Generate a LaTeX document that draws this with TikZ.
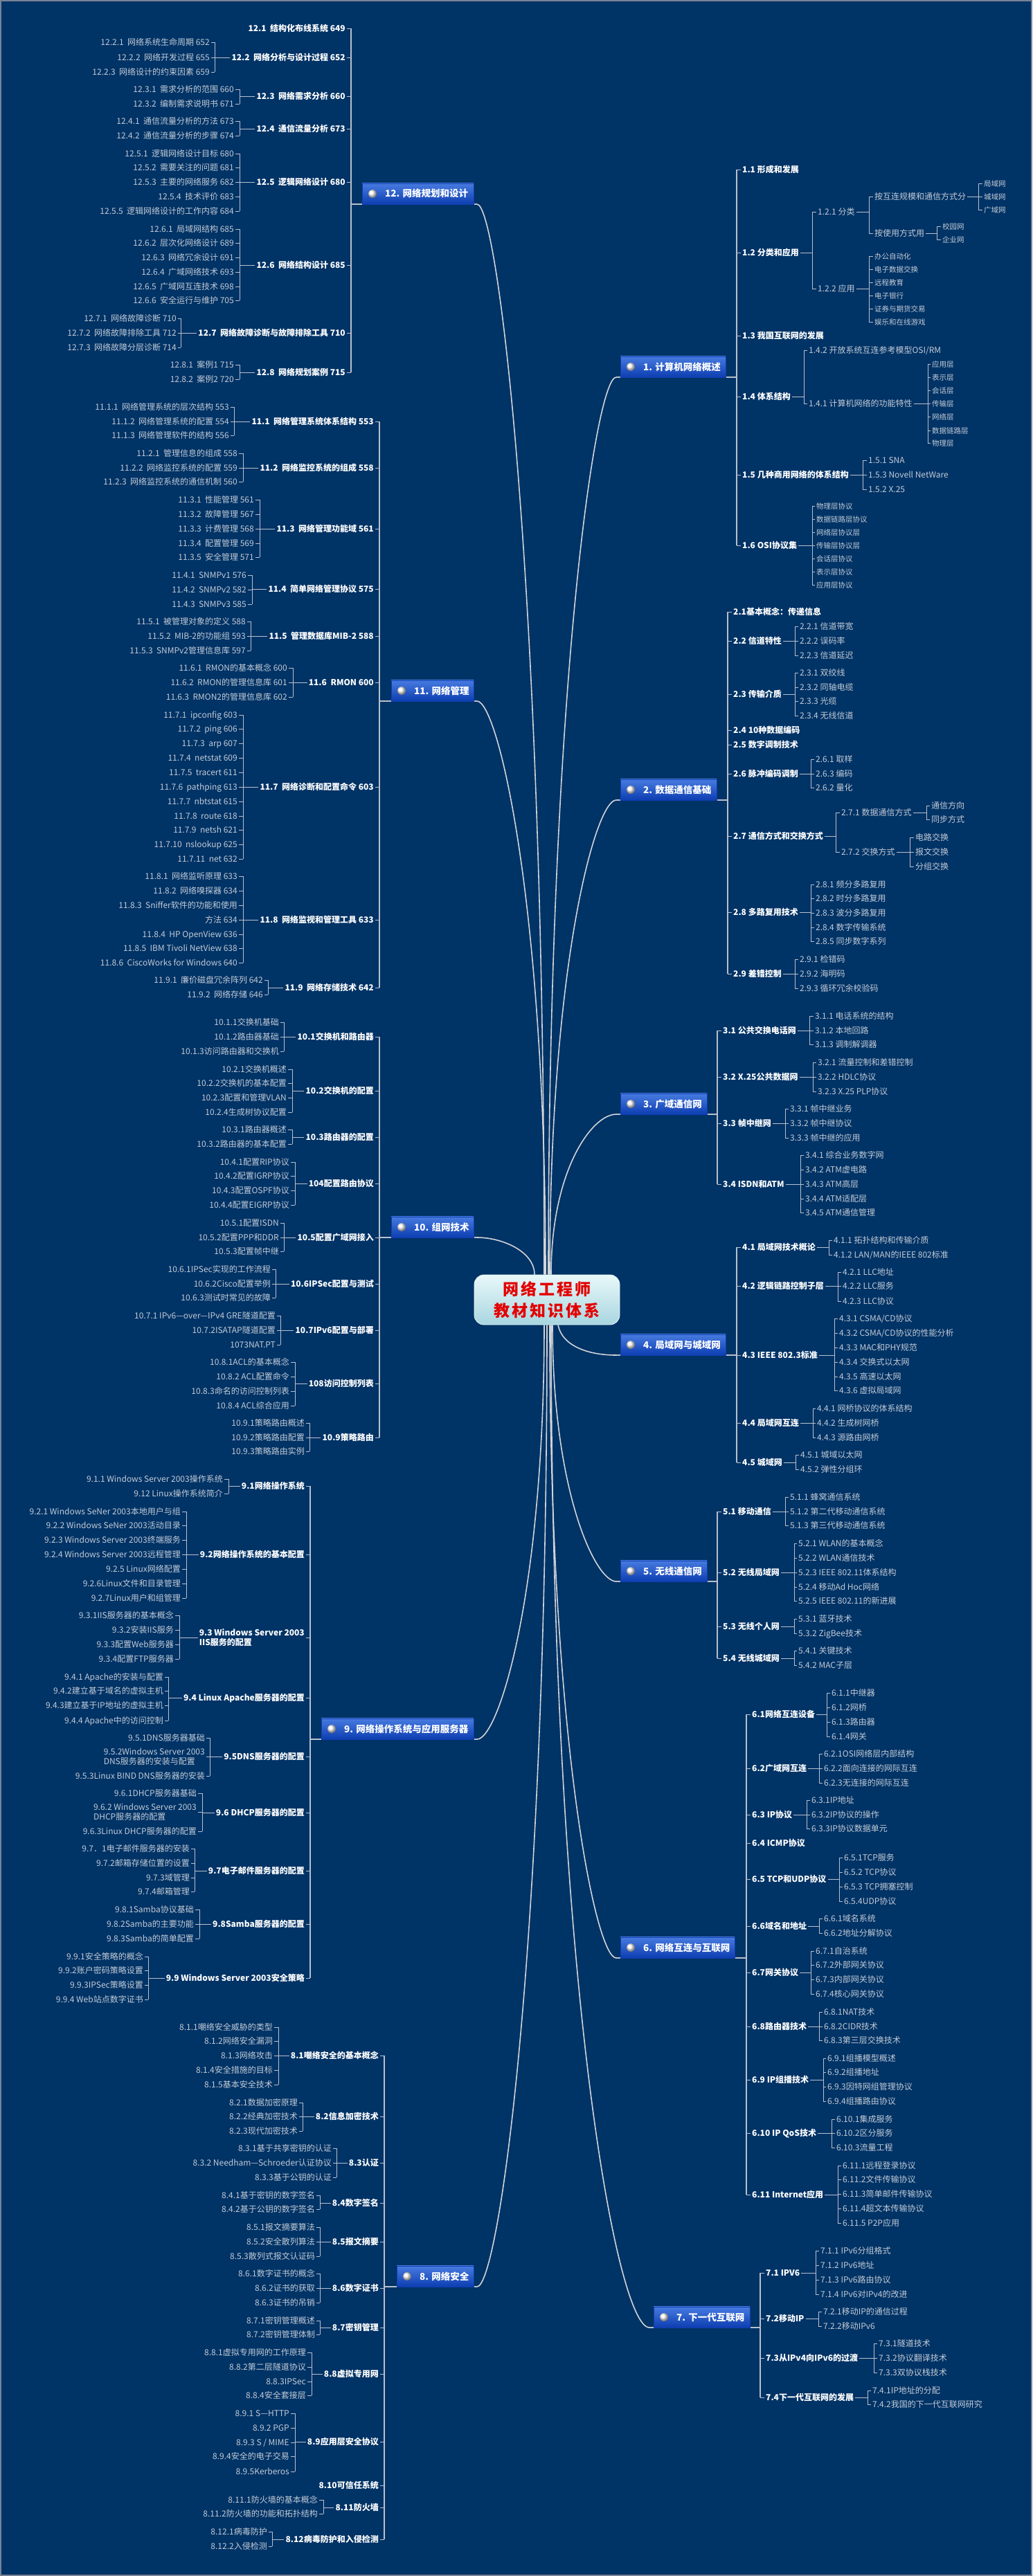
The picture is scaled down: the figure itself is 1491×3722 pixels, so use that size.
\documentclass[tikz,border=0pt]{standalone}
\usepackage{fontspec}
\setmainfont{Noto Sans CJK SC}
\definecolor{bg}{RGB}{0,51,102}
\definecolor{subg}{RGB}{196,203,214}
\definecolor{lineg}{RGB}{185,192,204}
\definecolor{curveg}{RGB}{210,212,216}
\definecolor{boxtop}{RGB}{72,124,224}
\definecolor{boxbot}{RGB}{14,62,178}
\definecolor{ctop}{RGB}{232,248,250}
\definecolor{cbot}{RGB}{168,214,224}
\definecolor{titred}{RGB}{228,0,0}
\definecolor{framec}{RGB}{120,132,150}
\tikzset{
 lvl2/.style={font=\fontsize{12}{14}\selectfont\bfseries,text=white,inner sep=0pt},
 lvl3/.style={font=\fontsize{12}{14}\selectfont,text=subg,inner sep=0pt},
 lvl4/.style={font=\fontsize{10.5}{12}\selectfont,text=subg,inner sep=0pt},
 tick/.style={draw=lineg,line width=0.9pt},
 brk/.style={draw=lineg,line width=0.9pt},
 trunk/.style={draw=lineg,line width=1.2pt},
 curve/.style={draw=curveg,line width=1.6pt},
 bbox/.style={rectangle,inner sep=0pt,minimum height=30,top color=boxtop,bottom color=boxbot,draw=boxbot,line width=0.4pt},
 bullet/.style={circle,inner sep=0pt,minimum size=12,ball color=white},
 btext/.style={font=\fontsize{13.5}{15}\selectfont\bfseries,text=white,inner sep=0pt},
 cnode/.style={rectangle,rounded corners=14,top color=ctop,bottom color=cbot,draw=ctop,line width=0.8pt,align=center,font=\fontsize{23}{31}\selectfont\bfseries,text=titred,inner sep=0pt,minimum width=210,minimum height=72},
}
\newcount\nid
% left side
\newcommand\Lpar[3]{\global\advance\nid by 1 \edef\curP{p\the\nid}%
 \node[lvl2,anchor=base east] (\curP) at (#3-8,#1+4.4) {#2};%
 \coordinate (t\curP) at (#3,#1);%
 \draw[tick] (\curP.east |- t\curP) ++(2,0) -- (t\curP);}
\newcommand\LparM[3]{\global\advance\nid by 1 \edef\curP{p\the\nid}%
 \node[lvl2,font=\fontsize{12}{13.5}\selectfont\bfseries,align=left,anchor=east] (\curP) at (#3-8,#1) {#2};%
 \coordinate (t\curP) at (#3,#1);%
 \draw[tick] (\curP.east |- t\curP) ++(2,0) -- (t\curP);}
\newcommand\Lbr[4]{\def\curCR{#1}\def\curBX{#2}%
 \draw[brk] (#2,#3) -- (#2,#4);%
 \coordinate (k\curP) at (#2,0);%
 \draw[tick] (\curP.west |- t\curP) ++(-2,0) -- (k\curP |- t\curP);}
\newcommand\Lch[3][lvl3]{\global\advance\nid by 1 \edef\curC{c\the\nid}%
 \node[#1,anchor=base east] (\curC) at (\curCR,#2+4.4) {#3};%
 \coordinate (t\curC) at (\curBX,#2);%
 \draw[tick] (\curC.east |- t\curC) ++(2,0) -- (t\curC);}
\newcommand\LchM[2]{\global\advance\nid by 1 \edef\curC{c\the\nid}%
 \node[lvl3,font=\fontsize{12}{13.5}\selectfont,align=left,anchor=east] (\curC) at (\curCR,#1) {#2};%
 \coordinate (t\curC) at (\curBX,#1);%
 \draw[tick] (\curC.east |- t\curC) ++(2,0) -- (t\curC);}
% right side
\newcommand\Rpar[3]{\global\advance\nid by 1 \edef\curP{p\the\nid}%
 \node[lvl2,anchor=base west] (\curP) at (#3+8,#1+4.4) {#2};%
 \coordinate (t\curP) at (#3,#1);%
 \draw[tick] (\curP.west |- t\curP) ++(-2,0) -- (t\curP);}
\newcommand\Rbr[4]{\def\curCL{#1}\def\curBX{#2}%
 \draw[brk] (#2,#3) -- (#2,#4);%
 \coordinate (k\curP) at (#2,0);%
 \draw[tick] (\curP.east |- t\curP) ++(2,0) -- (k\curP |- t\curP);}
\newcommand\Rset[2]{\def\curCL{#1}\def\curBX{#2}}
\newcommand\Rch[3][lvl3]{\global\advance\nid by 1 \edef\curC{c\the\nid}%
 \node[#1,anchor=base west] (\curC) at (\curCL,#2+4.4) {#3};%
 \coordinate (t\curC) at (\curBX,#2);%
 \draw[tick] (\curC.west |- t\curC) ++(-2,0) -- (t\curC);}
\newcommand\BoxN[5]{%
 \node[bbox,minimum width={#3-#2},anchor=south west] (#1) at (#2,#4) {};%
 \node[bullet] (#1c) at (#2+15,#4-15) {};%
 \node[btext,anchor=base west] (#1t) at (#2+33,#4-10) {#5};}
\begin{document}
\begin{tikzpicture}[x=1pt,y=-1pt]
\useasboundingbox (0,0) rectangle (1491,3722);
\fill[bg] (0,0) rectangle (1491,3722);
\draw[draw=framec,line width=2pt] (1,1) rectangle (1490,3721);

% ---------- box anchor coordinates ----------
\coordinate (b12s) at (689,295);
\coordinate (b11s) at (689,1013);
\coordinate (b10s) at (689,1788);
\coordinate (b9s) at (689,2513);
\coordinate (b8s) at (689,3304);
\coordinate (b1s) at (890,545);
\coordinate (b2s) at (890,1156);
\coordinate (b3s) at (890,1610);
\coordinate (b4s) at (890,1958);
\coordinate (b5s) at (890,2285);
\coordinate (b6s) at (890,2829);
\coordinate (b7s) at (938,3363);
\node[cnode,draw=none,fill=none,top color=bg,bottom color=bg] (C0) at (790,1878) {};
\coordinate (C) at (790,1878);

% ---------- curves ----------
\path (C0.north) coordinate (Cn) (C0.south) coordinate (Cs);
\draw[curve] (b12s) .. controls (719,295) and (786,836) .. ([xshift=-4]Cn);
\draw[curve] (b11s) .. controls (719,1013) and (788,1303) .. ([xshift=-2]Cn);
\draw[curve] (b10s) .. controls (725,1788) and (772,1808) .. ([xshift=-18]Cn);
\draw[curve] (b1s) .. controls (860,545) and (792,999) .. ([xshift=2]Cn);
\draw[curve] (b2s) .. controls (860,1156) and (794,1396) .. ([xshift=4]Cn);
\draw[curve] (b3s) .. controls (855,1610) and (796,1691) .. ([xshift=6]Cn);
\draw[curve] ([xshift=16]Cs) .. controls (812,1945) and (850,1958) .. (b4s);
\draw[curve] ([xshift=8]Cs) .. controls (798,2155) and (860,2285) .. (b5s);
\draw[curve] ([xshift=4]Cs) .. controls (794,2509) and (860,2829) .. (b6s);
\draw[curve] ([xshift=6]Cs) .. controls (796,2856) and (890,3363) .. (b7s);
\draw[curve] ([xshift=-4]Cs) .. controls (786,2303) and (720,2513) .. (b9s);
\draw[curve] (Cs) .. controls (790,2818) and (720,3304) .. (b8s);

% ---------- lines under boxes ----------
\draw[trunk] (507,295) -- (b12s);
\draw[trunk] (548,1013) -- (b11s);
\draw[trunk] (548,1788) -- (b10s);
\draw[trunk] (448,2513) -- (b9s);
\draw[trunk] (555,3304) -- (b8s);
\draw[trunk] (b1s) -- (1064,545);
\draw[trunk] (b2s) -- (1051,1156);
\draw[trunk] (b3s) -- (1036,1610);
\draw[trunk] (b4s) -- (1064,1958);
\draw[trunk] (b5s) -- (1036,2285);
\draw[trunk] (b6s) -- (1078,2829);
\draw[trunk] (b7s) -- (1098,3363);

% ---------- trunks ----------
\draw[trunk] (507,41) -- (507,538);
\draw[trunk] (548,609) -- (548,1427);
\draw[trunk] (548,1498) -- (548,2077);
\draw[trunk] (448,2147) -- (448,2858);
\draw[trunk] (555,2970) -- (555,3669);
\draw[trunk] (1064,245) -- (1064,788);
\draw[trunk] (1051,884) -- (1051,1407);
\draw[trunk] (1036,1489) -- (1036,1711);
\draw[trunk] (1064,1802) -- (1064,2113);
\draw[trunk] (1036,2184) -- (1036,2396);
\draw[trunk] (1078,2477) -- (1078,3171);
\draw[trunk] (1098,3284) -- (1098,3464);

% ---------- boxes ----------
\BoxN{b12}{523}{684}{295}{12. 网络规划和设计}
\BoxN{b11}{565}{684}{1013}{11. 网络管理}
\BoxN{b10}{565}{684}{1788}{10. 组网技术}
\BoxN{b9}{464}{684}{2513}{9. 网络操作系统与应用服务器}
\BoxN{b8}{573}{684}{3304}{8. 网络安全}
\BoxN{b1}{896}{1048}{545}{1. 计算机网络概述}
\BoxN{b2}{896}{1035}{1156}{2. 数据通信基础}
\BoxN{b3}{896}{1021}{1610}{3. 广域通信网}
\BoxN{b4}{896}{1048}{1958}{4. 局域网与城域网}
\BoxN{b5}{896}{1021}{2285}{5. 无线通信网}
\BoxN{b6}{896}{1061}{2829}{6. 网络互连与互联网}
\BoxN{b7}{944}{1083}{3363}{7. 下一代互联网}

% ---------- center ----------
\node[cnode] (Cmain) at (C) {网\hspace{3pt}络\hspace{3pt}工\hspace{3pt}程\hspace{3pt}师\\教\hspace{3pt}材\hspace{3pt}知\hspace{3pt}识\hspace{3pt}体\hspace{3pt}系};

% ================= 12 =================
\Lpar{41}{12.1\ \ 结构化布线系统 649}{507}
\Lpar{83}{12.2\ \ 网络分析与设计过程 652}{507}
\Lbr{303}{310}{61}{104}
\Lch{61}{12.2.1\ \ 网络系统生命周期 652}
\Lch{83}{12.2.2\ \ 网络开发过程 655}
\Lch{104}{12.2.3\ \ 网络设计的约束因素 659}
\Lpar{139}{12.3\ \ 网络需求分析 660}{507}
\Lbr{338}{346}{129}{150}
\Lch{129}{12.3.1\ \ 需求分析的范围 660}
\Lch{150}{12.3.2\ \ 编制需求说明书 671}
\Lpar{186}{12.4\ \ 通信流量分析 673}{507}
\Lbr{338}{346}{175}{196}
\Lch{175}{12.4.1\ \ 通信流量分析的方法 673}
\Lch{196}{12.4.2\ \ 通信流量分析的步骤 674}
\Lpar{263}{12.5\ \ 逻辑网络设计 680}{507}
\Lbr{338}{346}{222}{305}
\Lch{222}{12.5.1\ \ 逻辑网络设计目标 680}
\Lch{242}{12.5.2\ \ 需要关注的问题 681}
\Lch{263}{12.5.3\ \ 主要的网络服务 682}
\Lch{284}{12.5.4\ \ 技术评价 683}
\Lch{305}{12.5.5\ \ 逻辑网络设计的工作内容 684}
\Lpar{383}{12.6\ \ 网络结构设计 685}{507}
\Lbr{338}{346}{331}{434}
\Lch{331}{12.6.1\ \ 局域网结构 685}
\Lch{351}{12.6.2\ \ 层次化网络设计 689}
\Lch{372}{12.6.3\ \ 网络冗余设计 691}
\Lch{393}{12.6.4\ \ 广域网络技术 693}
\Lch{414}{12.6.5\ \ 广域网互连技术 698}
\Lch{434}{12.6.6\ \ 安全运行与维护 705}
\Lpar{481}{12.7\ \ 网络故障诊断与故障排除工具 710}{507}
\Lbr{255}{261}{460}{502}
\Lch{460}{12.7.1\ \ 网络故障诊断 710}
\Lch{481}{12.7.2\ \ 网络故障排除工具 712}
\Lch{502}{12.7.3\ \ 网络故障分层诊断 714}
\Lpar{538}{12.8\ \ 网络规划案例 715}{507}
\Lbr{338}{346}{527}{548}
\Lch{527}{12.8.1\ \ 案例1 715}
\Lch{548}{12.8.2\ \ 案例2 720}

% ================= 11 =================
\Lpar{609}{11.1\ \ 网络管理系统体系结构 553}{548}
\Lbr{331}{338}{588}{629}
\Lch{588}{11.1.1\ \ 网络管理系统的层次结构 553}
\Lch{609}{11.1.2\ \ 网络管理系统的配置 554}
\Lch{629}{11.1.3\ \ 网络管理软件的结构 556}
\Lpar{676}{11.2\ \ 网络监控系统的组成 558}{548}
\Lbr{343}{351}{655}{696}
\Lch{655}{11.2.1\ \ 管理信息的组成 558}
\Lch{676}{11.2.2\ \ 网络监控系统的配置 559}
\Lch{696}{11.2.3\ \ 网络监控系统的通信机制 560}
\Lpar{764}{11.3\ \ 网络管理功能域 561}{548}
\Lbr{367}{375}{722}{805}
\Lch{722}{11.3.1\ \ 性能管理 561}
\Lch{743}{11.3.2\ \ 故障管理 567}
\Lch{764}{11.3.3\ \ 计费管理 568}
\Lch{785}{11.3.4\ \ 配置管理 569}
\Lch{805}{11.3.5\ \ 安全管理 571}
\Lpar{851}{11.4\ \ 简单网络管理协议 575}{548}
\Lbr{356}{364}{831}{873}
\Lch{831}{11.4.1\ \ SNMPv1 576}
\Lch{852}{11.4.2\ \ SNMPv2 582}
\Lch{873}{11.4.3\ \ SNMPv3 585}
\Lpar{919}{11.5\ \ 管理数据库MIB-2 588}{548}
\Lbr{355}{362}{898}{940}
\Lch{898}{11.5.1\ \ 被管理对象的定义 588}
\Lch{919}{11.5.2\ \ MIB-2的功能组 593}
\Lch{940}{11.5.3\ \ SNMPv2管理信息库 597}
\Lpar{986}{11.6\ \ RMON 600}{548}
\Lbr{415}{423}{965}{1007}
\Lch{965}{11.6.1\ \ RMON的基本概念 600}
\Lch{986}{11.6.2\ \ RMON的管理信息库 601}
\Lch{1007}{11.6.3\ \ RMON2的管理信息库 602}
\Lpar{1137}{11.7\ \ 网络诊断和配置命令 603}{548}
\Lbr{343}{351}{1033}{1241}
\Lch{1033}{11.7.1\ \ ipconfig 603}
\Lch{1053}{11.7.2\ \ ping 606}
\Lch{1074}{11.7.3\ \ arp 607}
\Lch{1095}{11.7.4\ \ netstat 609}
\Lch{1116}{11.7.5\ \ tracert 611}
\Lch{1137}{11.7.6\ \ pathping 613}
\Lch{1158}{11.7.7\ \ nbtstat 615}
\Lch{1179}{11.7.8\ \ route 618}
\Lch{1199}{11.7.9\ \ netsh 621}
\Lch{1220}{11.7.10\ \ nslookup 625}
\Lch{1241}{11.7.11\ \ net 632}
\Lpar{1329}{11.8\ \ 网络监视和管理工具 633}{548}
\Lbr{343}{351}{1266}{1391}
\Lch{1266}{11.8.1\ \ 网络监听原理 633}
\Lch{1287}{11.8.2\ \ 网络嗅探器 634}
\Lch{1308}{11.8.3\ \ Sniffer软件的功能和使用}
\Lch{1329}{方法 634}
\Lch{1350}{11.8.4\ \ HP OpenView 636}
\Lch{1370}{11.8.5\ \ IBM Tivoli NetView 638}
\Lch{1391}{11.8.6\ \ CiscoWorks for Windows 640}
\Lpar{1427}{11.9\ \ 网络存储技术 642}{548}
\Lbr{380}{387}{1416}{1437}
\Lch{1416}{11.9.1\ \ 廉价磁盘冗余阵列 642}
\Lch{1437}{11.9.2\ \ 网络存储 646}

% ================= 10 =================
\Lpar{1498}{10.1交换机和路由器}{548}
\Lbr{403}{410}{1477}{1519}
\Lch{1477}{10.1.1交换机基础}
\Lch{1498}{10.1.2路由器基础}
\Lch{1519}{10.1.3访问路由器和交换机}
\Lpar{1576}{10.2交换机的配置}{548}
\Lbr{414}{422}{1545}{1607}
\Lch{1545}{10.2.1交换机概述}
\Lch{1565}{10.2.2交换机的基本配置}
\Lch{1586}{10.2.3配置和管理VLAN}
\Lch{1607}{10.2.4生成树协议配置}
\Lpar{1643}{10.3路由器的配置}{548}
\Lbr{414}{422}{1632}{1653}
\Lch{1632}{10.3.1路由器概述}
\Lch{1653}{10.3.2路由器的基本配置}
\Lpar{1710}{104配置路由协议}{548}
\Lbr{418}{426}{1679}{1741}
\Lch{1679}{10.4.1配置RIP协议}
\Lch{1699}{10.4.2配置IGRP协议}
\Lch{1720}{10.4.3配置OSPF协议}
\Lch{1741}{10.4.4配置EIGRP协议}
\Lpar{1788}{10.5配置广域网接入}{548}
\Lbr{403}{410}{1767}{1808}
\Lch{1767}{10.5.1配置ISDN}
\Lch{1788}{10.5.2配置PPP和DDR}
\Lch{1808}{10.5.3配置帧中继}
\Lpar{1855}{10.6IPSec配置与测试}{548}
\Lbr{391}{398}{1834}{1875}
\Lch{1834}{10.6.1IPSec实现的工作流程}
\Lch{1855}{10.6.2Cisco配置举例}
\Lch{1875}{10.6.3测试时常见的故障}
\Lpar{1922}{10.7IPv6配置与部署}{548}
\Lbr{398}{405}{1901}{1943}
\Lch{1901}{10.7.1 IPv6—over—IPv4 GRE隧道配置}
\Lch{1922}{10.7.2ISATAP隧道配置}
\Lch{1943}{1073NAT.PT}
\Lpar{1999}{108访问控制列表}{548}
\Lbr{418}{426}{1968}{2031}
\Lch{1968}{10.8.1ACL的基本概念}
\Lch{1989}{10.8.2 ACL配置命令}
\Lch{2010}{10.8.3命名的访问控制列表}
\Lch{2031}{10.8.4 ACL综合应用}
\Lpar{2077}{10.9策略路由}{548}
\Lbr{440}{447}{2056}{2097}
\Lch{2056}{10.9.1策略路由概述}
\Lch{2077}{10.9.2策略路由配置}
\Lch{2097}{10.9.3策略路由实例}

% ================= 9 =================
\Lpar{2147}{9.1网络操作系统}{448}
\Lbr{322}{330}{2137}{2158}
\Lch{2137}{9.1.1 Windows Server 2003操作系统}
\Lch{2158}{9.12 Linux操作系统简介}
\Lpar{2246}{9.2网络操作系统的基本配置}{448}
\Lbr{261}{269}{2184}{2309}
\Lch{2184}{9.2.1 Windows SeNer 2003本地用户与组}
\Lch{2204}{9.2.2 Windows SeNer 2003活动目录}
\Lch{2225}{9.2.3 Windows Server 2003终端服务}
\Lch{2246}{9.2.4 Windows Server 2003远程管理}
\Lch{2267}{9.2.5 Linux网络配置}
\Lch{2288}{9.2.6Linux文件和目录管理}
\Lch{2309}{9.2.7Linux用户和组管理}
\LparM{2366}{9.3 Windows Server 2003\\IIS服务的配置}{448}
\Lbr{251}{259}{2334}{2397}
\Lch{2334}{9.3.1IIS服务器的基本概念}
\Lch{2355}{9.3.2安装IIS服务}
\Lch{2376}{9.3.3配置Web服务器}
\Lch{2397}{9.3.4配置FTP服务器}
\Lpar{2453}{9.4 Linux Apache服务器的配置}{448}
\Lbr{236}{243}{2423}{2486}
\Lch{2423}{9.4.1 Apache的安装与配置}
\Lch{2443}{9.4.2建立基于域名的虚拟主机}
\Lch{2464}{9.4.3建立基于IP地址的虚拟主机}
\Lch{2486}{9.4.4 Apache中的访问控制}
\Lpar{2538}{9.5DNS服务器的配置}{448}
\Lbr{296}{303}{2511}{2566}
\Lch{2511}{9.5.1DNS服务器基础}
\LchM{2538}{9.5.2Windows Server 2003\\DNS服务器的安装与配置}
\Lch{2566}{9.5.3Linux BIND DNS服务器的安装}
\Lpar{2619}{9.6 DHCP服务器的配置}{448}
\Lbr{284}{292}{2591}{2646}
\Lch{2591}{9.6.1DHCP服务器基础}
\LchM{2618}{9.6.2 Windows Server 2003\\DHCP服务器的配置}
\Lch{2646}{9.6.3Linux DHCP服务器的配置}
\Lpar{2703}{9.7电子邮件服务器的配置}{448}
\Lbr{274}{281}{2671}{2733}
\Lch{2671}{9.7．1电子邮件服务器的安装}
\Lch{2692}{9.7.2邮箱存储位置的设置}
\Lch{2713}{9.7.3域管理}
\Lch{2733}{9.7.4邮箱管理}
\Lpar{2780}{9.8Samba服务器的配置}{448}
\Lbr{280}{288}{2759}{2801}
\Lch{2759}{9.8.1Samba协议基础}
\Lch{2780}{9.8.2Samba的主要功能}
\Lch{2801}{9.8.3Samba的简单配置}
\Lpar{2858}{9.9 Windows Server 2003安全策略}{448}
\Lbr{207}{214}{2827}{2889}
\Lch{2827}{9.9.1安全策略的概念}
\Lch{2847}{9.9.2账户密码策略设置}
\Lch{2868}{9.9.3IPSec策略设置}
\Lch{2889}{9.9.4 Web站点数字证书}

% ================= 8 =================
\Lpar{2970}{8.1嘲络安全的基本概念}{555}
\Lbr{394}{402}{2929}{3012}
\Lch{2929}{8.1.1嘲络安全威胁的类型}
\Lch{2949}{8.1.2网络安全漏洞}
\Lch{2970}{8.1.3网络攻击}
\Lch{2991}{8.1.4安全措施的目标}
\Lch{3012}{8.1.5基本安全技术}
\Lpar{3058}{8.2信息加密技术}{555}
\Lbr{430}{437}{3038}{3079}
\Lch{3038}{8.2.1数据加密原理}
\Lch{3058}{8.2.2经典加密技术}
\Lch{3079}{8.2.3现代加密技术}
\Lpar{3125}{8.3认证}{555}
\Lbr{479}{486}{3104}{3146}
\Lch{3104}{8.3.1基于共享密钥的认证}
\Lch{3125}{8.3.2 Needham—Schroeder认证协议}
\Lch{3146}{8.3.3基于公钥的认证}
\Lpar{3183}{8.4数字签名}{555}
\Lbr{455}{462}{3172}{3192}
\Lch{3172}{8.4.1基于密钥的数字签名}
\Lch{3192}{8.4.2基于公钥的数字签名}
\Lpar{3239}{8.5报文摘要}{555}
\Lbr{455}{462}{3218}{3260}
\Lch{3218}{8.5.1报文摘要算法}
\Lch{3239}{8.5.2安全散列算法}
\Lch{3260}{8.5.3散列式报文认证码}
\Lpar{3306}{8.6数字证书}{555}
\Lbr{455}{462}{3285}{3327}
\Lch{3285}{8.6.1数字证书的概念}
\Lch{3306}{8.6.2证书的获取}
\Lch{3327}{8.6.3证书的吊销}
\Lpar{3363}{8.7密钥管理}{555}
\Lbr{455}{462}{3353}{3373}
\Lch{3353}{8.7.1密钥管理概述}
\Lch{3373}{8.7.2密钥管理体制}
\Lpar{3430}{8.8虚拟专用网}{555}
\Lbr{442}{450}{3399}{3461}
\Lch{3399}{8.8.1虚拟专用网的工作原理}
\Lch{3420}{8.8.2第二层隧道协议}
\Lch{3441}{8.8.3IPSec}
\Lch{3461}{8.8.4安全套接层}
\Lpar{3528}{8.9应用层安全协议}{555}
\Lbr{418}{426}{3487}{3571}
\Lch{3487}{8.9.1 S—HTTP}
\Lch{3508}{8.9.2 PGP}
\Lch{3529}{8.9.3 S / MIME}
\Lch{3549}{8.9.4安全的电子交易}
\Lch{3571}{8.9.5Kerberos}
\Lpar{3591}{8.10可信任系统}{555}
\Lpar{3623}{8.11防火墙}{555}
\Lbr{459}{467}{3612}{3632}
\Lch{3612}{8.11.1防火墙的基本概念}
\Lch{3632}{8.11.2防火墙的功能和拓扑结构}
\Lpar{3669}{8.12病毒防护和入侵检测}{555}
\Lbr{386}{393}{3658}{3679}
\Lch{3658}{8.12.1病毒防护}
\Lch{3679}{8.12.2入侵检测}

% ================= 1 =================
\Rpar{245}{1.1 形成和发展}{1064}
\Rpar{365}{1.2 分类和应用}{1064}
\Rbr{1181}{1173}{306}{417}
\Rch{306}{1.2.1 分类}
\let\curP\curC
\Rbr{1263}{1255}{284}{337}
\Rch{284}{按互连规模和通信方式分}
\let\curP\curC
\Rbr{1421}{1413}{265}{303}
\Rch[lvl4]{265}{局域网}
\Rch[lvl4]{284}{城域网}
\Rch[lvl4]{303}{广域网}
\Rset{1263}{1255}
\Rch{337}{按使用方式用}
\let\curP\curC
\Rbr{1361}{1353}{327}{346}
\Rch[lvl4]{327}{校园网}
\Rch[lvl4]{346}{企业网}
\Rset{1181}{1173}
\Rch{417}{1.2.2 应用}
\let\curP\curC
\Rbr{1263}{1255}{370}{465}
\Rch[lvl4]{370}{办公自动化}
\Rch[lvl4]{389}{电子数据交换}
\Rch[lvl4]{408}{远程教育}
\Rch[lvl4]{427}{电子银行}
\Rch[lvl4]{446}{证券与期货交易}
\Rch[lvl4]{465}{娱乐和在线游戏}
\Rpar{485}{1.3 我国互联网的发展}{1064}
\Rpar{573}{1.4 体系结构}{1064}
\Rbr{1168}{1161}{506}{583}
\Rch{506}{1.4.2 开放系统互连参考模型OSI/RM}
\Rch{583}{1.4.1 计算机网络的功能特性}
\let\curP\curC
\Rbr{1346}{1340}{526}{640}
\Rch[lvl4]{526}{应用层}
\Rch[lvl4]{545}{表示层}
\Rch[lvl4]{564}{会话层}
\Rch[lvl4]{583}{传输层}
\Rch[lvl4]{602}{网络层}
\Rch[lvl4]{622}{数据链路层}
\Rch[lvl4]{640}{物理层}
\Rpar{686}{1.5 几种商用网络的体系结构}{1064}
\Rbr{1254}{1246}{665}{707}
\Rch{665}{1.5.1 SNA}
\Rch{686}{1.5.3 Novell NetWare}
\Rch{707}{1.5.2 X.25}
\Rpar{788}{1.6 OSI协议集}{1064}
\Rbr{1179}{1173}{731}{845}
\Rch[lvl4]{731}{物理层协议}
\Rch[lvl4]{750}{数据链路层协议}
\Rch[lvl4]{769}{网络层协议层}
\Rch[lvl4]{788}{传输层协议层}
\Rch[lvl4]{807}{会话层协议}
\Rch[lvl4]{826}{表示层协议}
\Rch[lvl4]{845}{应用层协议}

% ================= 2 =================
\Rpar{884}{2.1基本概念：传递信息}{1051}
\Rpar{926}{2.2 信道特性}{1051}
\Rbr{1155}{1148}{905}{947}
\Rch{905}{2.2.1 信道带宽}
\Rch{926}{2.2.2 误码率}
\Rch{947}{2.2.3 信道延迟}
\Rpar{1003}{2.3 传输介质}{1051}
\Rbr{1155}{1148}{972}{1034}
\Rch{972}{2.3.1 双绞线}
\Rch{993}{2.3.2 同轴电缆}
\Rch{1013}{2.3.3 光缆}
\Rch{1034}{2.3.4 无线信道}
\Rpar{1055}{2.4 10种数据编码}{1051}
\Rpar{1076}{2.5 数字调制技术}{1051}
\Rpar{1118}{2.6 脉冲编码调制}{1051}
\Rbr{1178}{1171}{1097}{1138}
\Rch{1097}{2.6.1 取样}
\Rch{1118}{2.6.3 编码}
\Rch{1138}{2.6.2 量化}
\Rpar{1208}{2.7 通信方式和交换方式}{1051}
\Rbr{1215}{1207}{1174}{1231}
\Rch{1174}{2.7.1 数据通信方式}
\let\curP\curC
\Rbr{1345}{1338}{1164}{1184}
\Rch{1164}{通信方向}
\Rch{1184}{同步方式}
\Rset{1215}{1207}
\Rch{1231}{2.7.2 交换方式}
\let\curP\curC
\Rbr{1322}{1314}{1210}{1252}
\Rch{1210}{电路交换}
\Rch{1231}{报文交换}
\Rch{1252}{分组交换}
\Rpar{1318}{2.8 多路复用技术}{1051}
\Rbr{1178}{1171}{1278}{1360}
\Rch{1278}{2.8.1 频分多路复用}
\Rch{1298}{2.8.2 时分多路复用}
\Rch{1319}{2.8.3 波分多路复用}
\Rch{1340}{2.8.4 数字传输系统}
\Rch{1360}{2.8.5 同步数字系列}
\Rpar{1407}{2.9 差错控制}{1051}
\Rbr{1155}{1148}{1386}{1428}
\Rch{1386}{2.9.1 检错码}
\Rch{1407}{2.9.2 海明码}
\Rch{1428}{2.9.3 循环冗余校验码}

% ================= 3 =================
\Rpar{1489}{3.1 公共交换电话网}{1036}
\Rbr{1177}{1169}{1468}{1509}
\Rch{1468}{3.1.1 电话系统的结构}
\Rch{1489}{3.1.2 本地回路}
\Rch{1509}{3.1.3 调制解调器}
\Rpar{1556}{3.2 X.25公共数据网}{1036}
\Rbr{1181}{1174}{1535}{1577}
\Rch{1535}{3.2.1 流量控制和差错控制}
\Rch{1556}{3.2.2 HDLC协议}
\Rch{1577}{3.2.3 X.25 PLP协议}
\Rpar{1623}{3.3 帧中继网}{1036}
\Rbr{1141}{1134}{1602}{1644}
\Rch{1602}{3.3.1 帧中继业务}
\Rch{1623}{3.3.2 帧中继协议}
\Rch{1644}{3.3.3 帧中继的应用}
\Rpar{1711}{3.4 ISDN和ATM}{1036}
\Rbr{1163}{1156}{1669}{1752}
\Rch{1669}{3.4.1 综合业务数字网}
\Rch{1690}{3.4.2 ATM虚电路}
\Rch{1711}{3.4.3 ATM高层}
\Rch{1732}{3.4.4 ATM适配层}
\Rch{1752}{3.4.5 ATM通信管理}

% ================= 4 =================
\Rpar{1802}{4.1 局域网技术概论}{1064}
\Rbr{1204}{1197}{1792}{1813}
\Rch{1792}{4.1.1 拓扑结构和传输介质}
\Rch{1813}{4.1.2 LAN/MAN的IEEE 802标准}
\Rpar{1858}{4.2 逻辑链路控制子层}{1064}
\Rbr{1217}{1210}{1838}{1880}
\Rch{1838}{4.2.1 LLC地址}
\Rch{1858}{4.2.2 LLC服务}
\Rch{1880}{4.2.3 LLC协议}
\Rpar{1958}{4.3 IEEE 802.3标准}{1064}
\Rbr{1212}{1205}{1905}{2009}
\Rch{1905}{4.3.1 CSMA/CD协议}
\Rch{1926}{4.3.2 CSMA/CD协议的性能分析}
\Rch{1947}{4.3.3 MAC和PHY规范}
\Rch{1968}{4.3.4 交换式以太网}
\Rch{1989}{4.3.5 高速以太网}
\Rch{2009}{4.3.6 虚拟局域网}
\Rpar{2056}{4.4 局域网互连}{1064}
\Rbr{1180}{1174}{2035}{2077}
\Rch{2035}{4.4.1 网桥协议的体系结构}
\Rch{2056}{4.4.2 生成树网桥}
\Rch{2077}{4.4.3 源路由网桥}
\Rpar{2113}{4.5 城域网}{1064}
\Rbr{1156}{1149}{2102}{2123}
\Rch{2102}{4.5.1 城域以太网}
\Rch{2123}{4.5.2 弹性分组环}

% ================= 5 =================
\Rpar{2184}{5.1 移动通信}{1036}
\Rbr{1141}{1134}{2163}{2204}
\Rch{2163}{5.1.1 蜂窝通信系统}
\Rch{2184}{5.1.2 第二代移动通信系统}
\Rch{2204}{5.1.3 第三代移动通信系统}
\Rpar{2272}{5.2 无线局域网}{1036}
\Rbr{1153}{1147}{2230}{2313}
\Rch{2230}{5.2.1 WLAN的基本概念}
\Rch{2251}{5.2.2 WLAN通信技术}
\Rch{2272}{5.2.3 IEEE 802.11体系结构}
\Rch{2293}{5.2.4 移动Ad Hoc网络}
\Rch{2313}{5.2.5 IEEE 802.11的新进展}
\Rpar{2350}{5.3 无线个人网}{1036}
\Rbr{1153}{1147}{2339}{2360}
\Rch{2339}{5.3.1 蓝牙技术}
\Rch{2360}{5.3.2 ZigBee技术}
\Rpar{2396}{5.4 无线城域网}{1036}
\Rbr{1153}{1147}{2385}{2406}
\Rch{2385}{5.4.1 关键技术}
\Rch{2406}{5.4.2 MAC子层}

% ================= 6 =================
\Rpar{2477}{6.1网络互连设备}{1078}
\Rbr{1201}{1194}{2446}{2509}
\Rch{2446}{6.1.1中继器}
\Rch{2467}{6.1.2网桥}
\Rch{2488}{6.1.3路由器}
\Rch{2509}{6.1.4网关}
\Rpar{2555}{6.2广域网互连}{1078}
\Rbr{1190}{1183}{2534}{2576}
\Rch{2534}{6.2.1OSI网络层内部结构}
\Rch{2555}{6.2.2面向连接的网际互连}
\Rch{2576}{6.2.3无连接的网际互连}
\Rpar{2622}{6.3 IP协议}{1078}
\Rbr{1172}{1165}{2601}{2642}
\Rch{2601}{6.3.1IP地址}
\Rch{2622}{6.3.2IP协议的操作}
\Rch{2642}{6.3.3IP协议数据单元}
\Rpar{2663}{6.4 ICMP协议}{1078}
\Rpar{2715}{6.5 TCP和UDP协议}{1078}
\Rbr{1219}{1212}{2684}{2747}
\Rch{2684}{6.5.1TCP服务}
\Rch{2705}{6.5.2 TCP协议}
\Rch{2726}{6.5.3 TCP拥塞控制}
\Rch{2747}{6.5.4UDP协议}
\Rpar{2783}{6.6域名和地址}{1078}
\Rbr{1190}{1183}{2772}{2793}
\Rch{2772}{6.6.1域名系统}
\Rch{2793}{6.6.2地址分解协议}
\Rpar{2850}{6.7网关协议}{1078}
\Rbr{1178}{1171}{2819}{2881}
\Rch{2819}{6.7.1自治系统}
\Rch{2839}{6.7.2外部网关协议}
\Rch{2860}{6.7.3内部网关协议}
\Rch{2881}{6.7.4核心网关协议}
\Rpar{2928}{6.8路由器技术}{1078}
\Rbr{1190}{1183}{2907}{2948}
\Rch{2907}{6.8.1NAT技术}
\Rch{2928}{6.8.2CIDR技术}
\Rch{2948}{6.8.3第三层交换技术}
\Rpar{3005}{6.9 IP组播技术}{1078}
\Rbr{1195}{1189}{2974}{3036}
\Rch{2974}{6.9.1组播模型概述}
\Rch{2994}{6.9.2组播地址}
\Rch{3015}{6.9.3因特网组管理协议}
\Rch{3036}{6.9.4组播路由协议}
\Rpar{3082}{6.10 IP QoS技术}{1078}
\Rbr{1208}{1201}{3062}{3103}
\Rch{3062}{6.10.1集成服务}
\Rch{3082}{6.10.2区分服务}
\Rch{3103}{6.10.3流量工程}
\Rpar{3171}{6.11 Internet应用}{1078}
\Rbr{1217}{1210}{3129}{3212}
\Rch{3129}{6.11.1远程登录协议}
\Rch{3149}{6.11.2文件传输协议}
\Rch{3170}{6.11.3简单邮件传输协议}
\Rch{3191}{6.11.4超文本传输协议}
\Rch{3212}{6.11.5 P2P应用}

% ================= 7 =================
\Rpar{3284}{7.1 IPV6}{1098}
\Rbr{1185}{1178}{3252}{3315}
\Rch{3252}{7.1.1 IPv6分组格式}
\Rch{3273}{7.1.2 IPv6地址}
\Rch{3294}{7.1.3 IPv6路由协议}
\Rch{3315}{7.1.4 IPv6对IPv4的改进}
\Rpar{3350}{7.2移动IP}{1098}
\Rbr{1189}{1182}{3340}{3361}
\Rch{3340}{7.2.1移动IP的通信过程}
\Rch{3361}{7.2.2移动IPv6}
\Rpar{3407}{7.3从IPv4向IPv6的过渡}{1098}
\Rbr{1269}{1262}{3386}{3428}
\Rch{3386}{7.3.1隧道技术}
\Rch{3407}{7.3.2协议翻译技术}
\Rch{3428}{7.3.3双协议栈技术}
\Rpar{3464}{7.4下一代互联网的发展}{1098}
\Rbr{1260}{1253}{3454}{3474}
\Rch{3454}{7.4.1IP地址的分配}
\Rch{3474}{7.4.2我国的下一代互联网研究}
\end{tikzpicture}
\end{document}
